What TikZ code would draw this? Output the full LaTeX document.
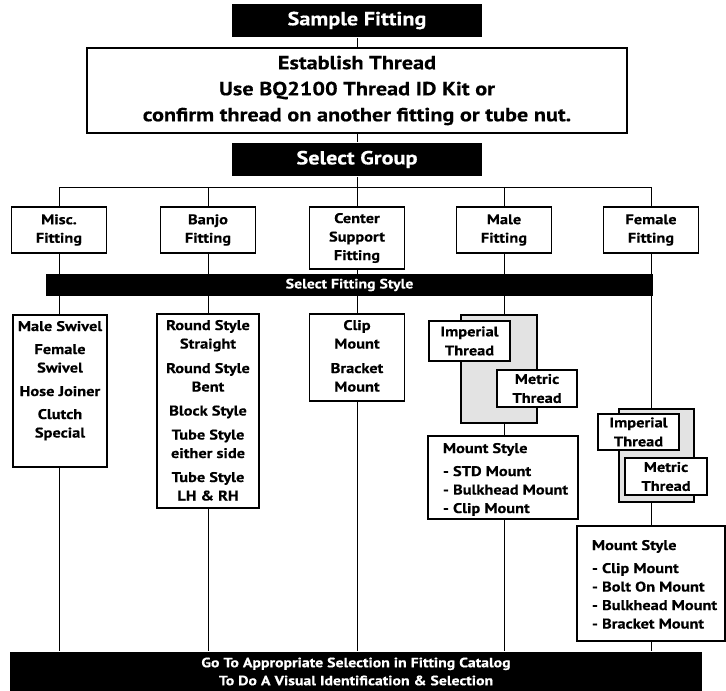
\documentclass[tikz,border=0pt]{standalone}
\usepackage{fontspec}
\setmainfont{PT Sans}[FakeStretch=1.17, BoldFeatures={FakeBold=0.4}]
\usetikzlibrary{backgrounds}
\newcommand{\colbox}[3]{\parbox[c][#2][t]{#1}{\centering\rule{0pt}{16pt}#3}}
\newcommand{\mntbox}[4]{\parbox[c][#2][t]{#1}{\raggedright\leftskip=15pt\rule{0pt}{#3}#4}}

\begin{document}
\begin{tikzpicture}[x=1pt, y=-1pt, line width=1.6pt, font=\bfseries,
  blk/.style={fill=black, text=white, inner sep=0pt, align=center},
  box/.style={draw, fill=white, inner sep=0pt, align=center},
  grpbox/.style={box, minimum width=95pt, font=\bfseries\fontsize{14}{18.5}\selectfont},
  lst/.style={box, font=\bfseries\fontsize{14}{18.5}\selectfont},
  thr/.style={box, font=\bfseries\fontsize{14}{19}\selectfont},
  shade/.style={draw, fill=black!11, inner sep=0pt}]
  \useasboundingbox (0,0) rectangle (726,691);
  % top of the chart
  \node[blk, minimum width=250pt, minimum height=33pt, font=\bfseries\fontsize{19}{24}\selectfont] (sample) at (357,20.5) {Sample Fitting};
  \node[box, minimum width=540pt, minimum height=85pt, font=\bfseries\fontsize{19}{26}\selectfont] (est) at (357,90.5)
       {Establish Thread\\Use BQ2100 Thread ID Kit or\\confirm thread on another fitting or tube nut.};
  \node[blk, minimum width=250pt, minimum height=33pt, font=\bfseries\fontsize{19}{24}\selectfont] (grp) at (357,159.5) {Select Group};
  \coordinate (hl) at (357,187);
  % groups
  \node[grpbox, minimum height=46pt] (g1) at (59,230) {Misc.\\Fitting};
  \node[grpbox, minimum height=46pt] (g2) at (208,230) {Banjo\\Fitting};
  \node[grpbox, minimum height=62pt] (g3) at (357,238) {Center\\Support\\Fitting};
  \node[grpbox, minimum height=46pt] (g4) at (504,230) {Male\\Fitting};
  \node[grpbox, minimum height=46pt] (g5) at (651,230) {Female\\Fitting};
  \node[blk, minimum width=607pt, minimum height=22pt, font=\bfseries\fontsize{13.5}{14}\selectfont] (style) at (349.5,285) {Select Fitting Style};
  % fitting styles
  \node[lst] (l1) at (60,391) {\colbox{94pt}{152pt}{Male Swivel\\[4.5pt]Female\\Swivel\\[5pt]Hose Joiner\\[4.5pt]Clutch\\Special}};
  \node[lst] (l2) at (208,411) {\colbox{102pt}{194pt}{Round Style\\Straight\\[6pt]Round Style\\Bent\\[5.5pt]Block Style\\[5.5pt]Tube Style\\either side\\[5.5pt]Tube Style\\LH \& RH}};
  \node[lst] (l3) at (357,357.5) {\colbox{95pt}{87pt}{Clip\\Mount\\[6pt]Bracket\\Mount}};
  \node[shade, minimum width=76pt, minimum height=108pt] (mg) at (499,369) {};
  \node[thr, minimum width=81pt, minimum height=40pt] (mi) at (469.5,341) {Imperial\\Thread};
  \node[thr, minimum width=80pt, minimum height=37pt] (mm) at (537,388.5) {Metric\\Thread};
  \node[lst] (mms) at (503,477.5) {\mntbox{150pt}{83pt}{17pt}{Mount Style\\[4.5pt]- STD Mount\\- Bulkhead Mount\\- Clip Mount}};
  \node[shade, minimum width=75pt, minimum height=93pt] (fg) at (656.5,455.5) {};
  \node[thr, minimum width=81pt, minimum height=36pt] (fi) at (638.5,432) {Imperial\\Thread};
  \node[thr, minimum width=82pt, minimum height=37pt] (fm) at (666,476.5) {Metric\\Thread};
  \node[lst] (fms) at (651,583.5) {\mntbox{148pt}{115pt}{24pt}{Mount Style\\[4.5pt]- Clip Mount\\- Bolt On Mount\\- Bulkhead Mount\\- Bracket Mount}};
  \node[blk, minimum width=692pt, minimum height=39pt, font=\bfseries\fontsize{13.5}{18}\selectfont] (fin) at (356,671.5)
       {Go To Appropriate Selection in Fitting Catalog\\To Do A Visual Identification \& Selection};
  % connectors
  \begin{scope}[on background layer]
    \draw (sample) -- (est);
    \draw (est) -- (grp);
    \draw (grp) -- (hl);
    \draw (g1.north) -- (g1 |- hl) -- (g5 |- hl) -- (g5.north);
    \foreach \n in {g2,g3,g4} \draw (\n.north) -- (\n |- hl);
    \foreach \n in {g1,g2,g3,g4,g5} \draw (\n.south) -- (\n |- fin.north);
  \end{scope}
\end{tikzpicture}
\end{document}
